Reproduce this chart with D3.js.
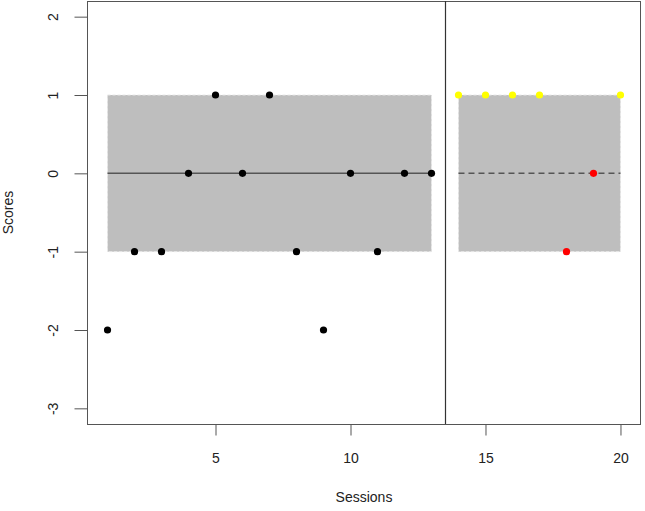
<!DOCTYPE html>
<html>
<head>
<meta charset="utf-8">
<script src="https://cdn.jsdelivr.net/npm/d3@7"></script>
<style>
  body { margin: 0; background: #fff; }
  svg { display: block; font-family: "Liberation Sans", Arial, sans-serif; }
</style>
</head>
<body>
<svg id="chart" width="645" height="511"></svg>
<script>
// data
var sessions = d3.range(1, 21);
var scores = [-2, -1, -1, 0, 1, 0, 1, -1, -2, 0, -1, 0, 0, 1, 1, 1, 1, -1, 0, 1];
var pointColors = ['black','black','black','black','black','black','black','black','black','black','black','black','black',
  'yellow','yellow','yellow','yellow','red','red','yellow'];
// phases: start, end, centre, lower, upper, line style
var phases = [
  {from: 1, to: 13, mid: 0, lo: -1, hi: 1, dash: null},
  {from: 14, to: 20, mid: 0, lo: -1, hi: 1, dash: '6,4'}
];
var phaseBreak = 13.5;
var xTicks = [5, 10, 15, 20];
var yTicks = [-3, -2, -1, 0, 1, 2];

var svg = d3.select('#chart');
var plotLeft = 87, plotRight = 641, plotTop = 1, plotBottom = 424;

// R style 4% padding round the data range
var x = d3.scaleLinear().domain([0.24, 20.76]).range([plotLeft, plotRight]);
var y = d3.scaleLinear().domain([-3.2, 2.2]).range([plotBottom, plotTop]);

var axisColor = '#555';
var plain = function(d) { return String(d); }; // keeps the ascii hyphen like R

// phase bands
phases.forEach(function(p) {
  svg.append('rect')
    .attr('x', x(p.from)).attr('y', y(p.hi))
    .attr('width', x(p.to) - x(p.from))
    .attr('height', y(p.lo) - y(p.hi))
    .attr('fill', '#bebebe')
    .attr('stroke', '#e8e8e8')
    .attr('stroke-dasharray', '3,2');
  svg.append('line')
    .attr('x1', x(p.from)).attr('x2', x(p.to))
    .attr('y1', y(p.mid)).attr('y2', y(p.mid))
    .attr('stroke', '#555').attr('stroke-width', 1.5)
    .attr('stroke-dasharray', p.dash);
});

// frame
svg.append('rect')
  .attr('x', plotLeft + 0.5).attr('y', plotTop + 0.5)
  .attr('width', plotRight - plotLeft - 1).attr('height', plotBottom - plotTop)
  .attr('fill', 'none').attr('stroke', axisColor);

svg.append('line')
  .attr('x1', Math.round(x(phaseBreak)) + 0.5).attr('x2', Math.round(x(phaseBreak)) + 0.5)
  .attr('y1', plotTop).attr('y2', plotBottom)
  .attr('stroke', '#333').attr('stroke-width', 1.2);

// points
svg.append('g').selectAll('circle')
  .data(sessions)
  .join('circle')
    .attr('cx', function(d) { return x(d); })
    .attr('cy', function(d, i) { return y(scores[i]); })
    .attr('r', 3.6)
    .attr('fill', function(d, i) { return pointColors[i]; });

// x axis
var xAxis = d3.axisBottom(x).tickValues(xTicks).tickSize(11).tickPadding(18).tickFormat(plain);
svg.append('g')
  .attr('transform', 'translate(0,' + (plotBottom + 0.5) + ')')
  .call(xAxis)
  .call(function(g) {
    g.select('.domain').remove();
    g.selectAll('.tick line').attr('stroke', axisColor);
    g.selectAll('.tick text').attr('font-size', 14).attr('fill', '#222').attr('font-family', 'Liberation Sans, Arial, sans-serif');
  });

// y axis, labels turned like R
var yAxis = d3.axisLeft(y).tickValues(yTicks).tickSize(13).tickFormat(plain);
svg.append('g')
  .attr('transform', 'translate(' + (plotLeft + 0.5) + ',0)')
  .call(yAxis)
  .call(function(g) {
    g.select('.domain').remove();
    g.selectAll('.tick line').attr('stroke', axisColor);
    g.selectAll('.tick text')
      .attr('x', null).attr('dy', null)
      .attr('text-anchor', 'middle')
      .attr('font-size', 14).attr('fill', '#222')
      .attr('font-family', 'Liberation Sans, Arial, sans-serif')
      .attr('transform', 'translate(-35,0) rotate(-90)')
      .attr('dominant-baseline', 'central');
  });

svg.append('text')
  .attr('x', (plotLeft + plotRight) / 2).attr('y', 502)
  .attr('text-anchor', 'middle').attr('font-size', 14).attr('fill', '#222')
  .text('Sessions');

svg.append('text')
  .attr('transform', 'translate(13,' + ((plotTop + plotBottom) / 2) + ') rotate(-90)')
  .attr('text-anchor', 'middle').attr('font-size', 14).attr('fill', '#222')
  .text('Scores');
</script>
</body>
</html>
